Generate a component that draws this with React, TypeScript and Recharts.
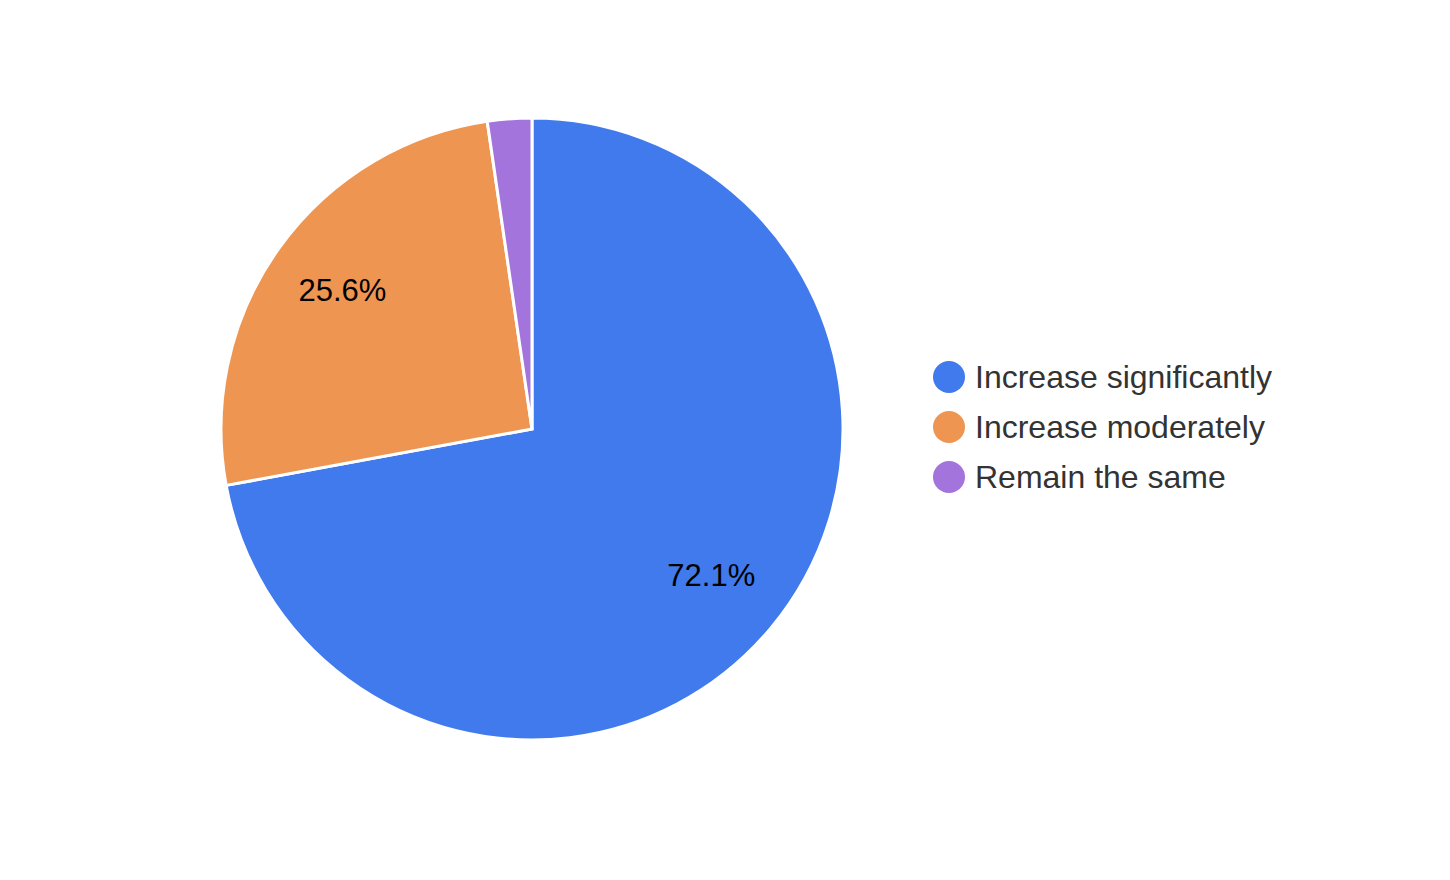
import React from "react";
import { PieChart, Pie, Cell, Legend } from "recharts";

const categories = ["Increase significantly", "Increase moderately", "Remain the same"];
const values = [72.1, 25.6, 2.3];
const colors = ["#417AEC", "#EF9552", "#A374DC"];

const data = categories.map((name, i) => ({ name, value: values[i] }));

const RADIAN = Math.PI / 180;

const renderLabel = (props: any) => {
  const { cx, cy, midAngle, outerRadius, percent } = props;
  if (percent < 0.05) return null;
  const r = outerRadius * 0.75;
  const x = cx + r * Math.cos(-midAngle * RADIAN);
  const y = cy + r * Math.sin(-midAngle * RADIAN);
  return (
    <text
      x={x}
      y={y - 3}
      fill="#000"
      textAnchor="middle"
      dominantBaseline="central"
      style={{ fontFamily: "'Liberation Sans', Arial, sans-serif", fontSize: 31 }}
    >
      {(percent * 100).toFixed(1) + "%"}
    </text>
  );
};

const renderLegend = () => (
  <div style={{ fontFamily: "'Liberation Sans', Arial, sans-serif" }}>
    {categories.map((c, i) => (
      <div key={c} style={{ display: "flex", alignItems: "center", height: 50 }}>
        <span
          style={{
            display: "inline-block",
            width: 32,
            height: 32,
            borderRadius: 16,
            background: colors[i],
            marginRight: 10,
          }}
        />
        <span style={{ fontSize: 32, color: "#333" }}>{c}</span>
      </div>
    ))}
  </div>
);

export default function App() {
  return (
    <div style={{ position: "absolute", left: 0, top: 0, width: 1450, height: 880, background: "#fff" }}>
      <PieChart width={1450} height={880} margin={{ top: 0, right: 0, bottom: 0, left: 0 }}>
        <Pie
          data={data}
          dataKey="value"
          nameKey="name"
          cx={532}
          cy={429}
          outerRadius={311}
          startAngle={90}
          endAngle={-270}
          stroke="#fff"
          strokeWidth={3}
          label={renderLabel}
          labelLine={false}
          isAnimationActive={false}
        >
          {data.map((d, i) => (
            <Cell key={d.name} fill={colors[i]} />
          ))}
        </Pie>
        <Legend
          content={renderLegend}
          wrapperStyle={{ left: 933, top: 352, width: 450 }}
        />
      </PieChart>
    </div>
  );
}
